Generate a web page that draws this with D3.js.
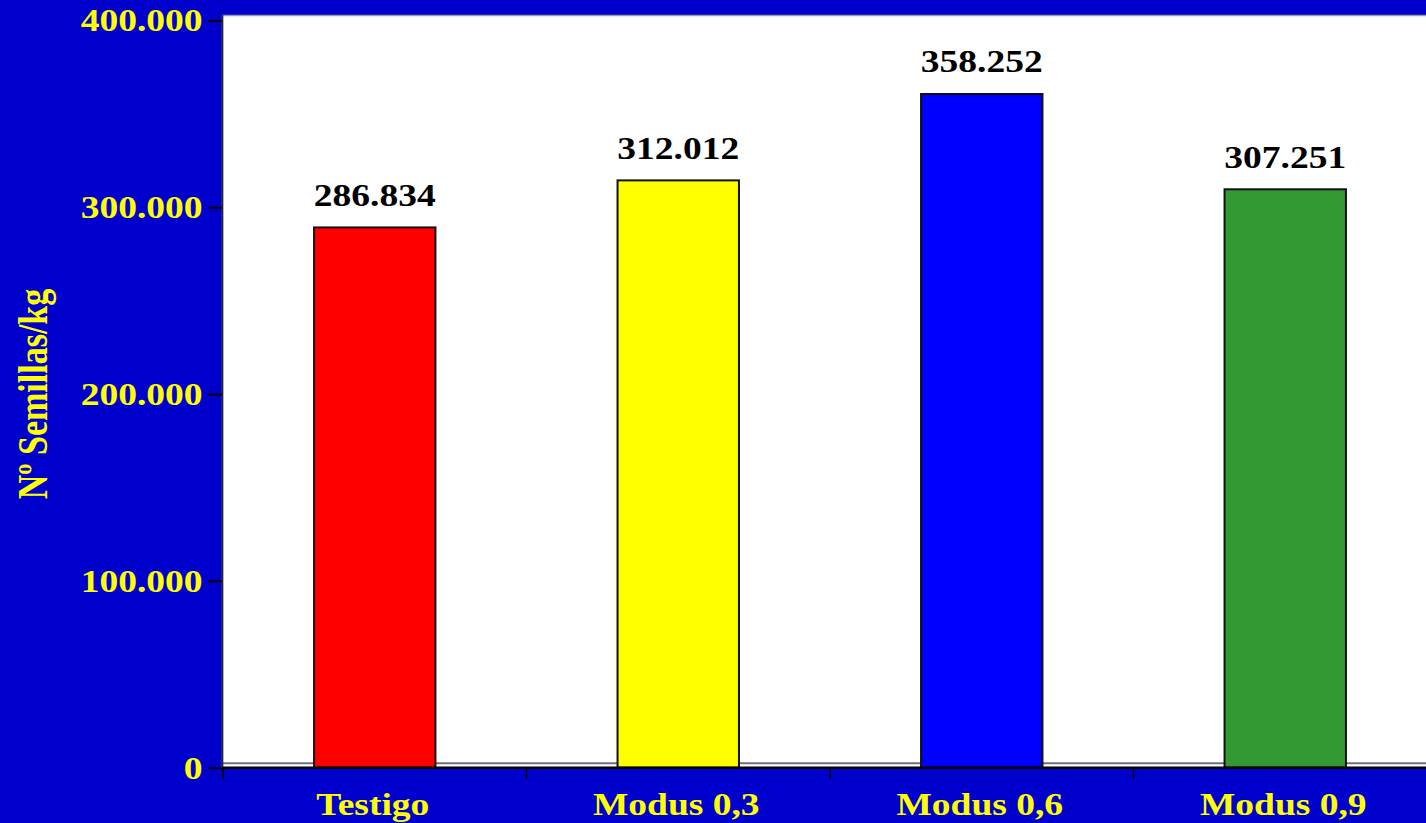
<!DOCTYPE html>
<html><head><meta charset="utf-8">
<script src="https://cdn.jsdelivr.net/npm/d3@7"></script>
<style>html,body{margin:0;padding:0;background:#0000CC;overflow:hidden}</style>
</head><body>
<svg id="c" width="1426" height="823"></svg>
<script>
const categories = ["Testigo", "Modus 0,3", "Modus 0,6", "Modus 0,9"];
const values = [286834, 312012, 358252, 307251];
const barColors = ["#FF0000", "#FFFF00", "#0000FF", "#339933"];
const yTicks = [0, 100000, 200000, 300000, 400000];
const yTitle = "Nº Semillas/kg";

const W = 1426, H = 823;
const svg = d3.select("#c");
const FONT = "'Liberation Serif', 'Times New Roman', serif";
const SX = 1.23;
const loc = d3.formatLocale({decimal: ",", thousands: ".", grouping: [3], currency: ["", ""]});
const fmt = loc.format(",");

const left = 222.5, plotTop = 16, plotBottom = 763.3, axisShift = 4.4;
const axisY = plotBottom + axisShift;
const x = d3.scaleBand().domain(categories).range([223, 223 + 4 * 303.5]).padding(0);
const y = d3.scaleLinear().domain([0, 400000]).range([plotBottom, plotTop]);

svg.append("rect").attr("width", W).attr("height", H).attr("fill", "#0000CC");
// plot area
svg.append("rect").attr("x", left).attr("y", plotTop - 0.5).attr("width", W - left + 5).attr("height", axisY - plotTop + 0.5)
  .attr("fill", "#fff").attr("stroke", "#9a9aa8").attr("stroke-width", 1.5);
svg.append("line").attr("x1", left).attr("x2", W).attr("y1", plotBottom).attr("y2", plotBottom)
  .attr("stroke", "#6e6e80").attr("stroke-width", 2);

// bars
const bw = x.bandwidth() * 0.4;
svg.selectAll("rect.bar").data(values).join("rect").attr("class", "bar")
  .attr("x", (d, i) => x(categories[i]) + (x.bandwidth() - bw) / 2)
  .attr("y", d => y(d))
  .attr("width", bw)
  .attr("height", d => axisY - y(d))
  .attr("fill", (d, i) => barColors[i])
  .attr("stroke", "#111").attr("stroke-width", 2);

// value labels
svg.selectAll("text.val").data(values).join("text").attr("class", "val")
  .attr("transform", (d, i) => `translate(${x(categories[i]) + x.bandwidth() / 2},${y(d) - 21.5}) scale(${SX},1)`)
  .attr("text-anchor", "middle").attr("font-family", FONT).attr("font-weight", "bold").attr("font-size", 30.5)
  .attr("fill", "#000").text(d => fmt(d));

// y axis
const ya = svg.append("g").attr("transform", `translate(${left},${axisShift})`)
  .call(d3.axisLeft(y).tickValues(yTicks).tickSize(14).tickPadding(0).tickFormat(d => fmt(d)));
ya.select(".domain").remove();
ya.selectAll(".tick line").attr("stroke", "#000").attr("stroke-width", 2);
ya.selectAll(".tick text").attr("transform", `scale(${SX},1)`).attr("x", -20 / SX).attr("dy", "0.34em")
  .attr("font-family", FONT).attr("font-weight", "bold").attr("font-size", 30.5).attr("fill", "#FFFF00");
svg.append("line").attr("x1", left).attr("x2", left).attr("y1", plotTop - 1).attr("y2", axisY + 11)
  .attr("stroke", "#222").attr("stroke-width", 1.5);

// x axis
svg.append("line").attr("x1", left).attr("x2", W).attr("y1", axisY).attr("y2", axisY)
  .attr("stroke", "#000").attr("stroke-width", 2.5);
const bounds = categories.map(c => x(c));
svg.selectAll("line.xt").data(bounds).join("line").attr("class", "xt")
  .attr("x1", d => d).attr("x2", d => d).attr("y1", axisY).attr("y2", axisY + 11)
  .attr("stroke", "#000").attr("stroke-width", 1.5);
svg.selectAll("text.xl").data(categories).join("text").attr("class", "xl")
  .attr("transform", d => `translate(${x(d) + x.bandwidth() / 2 - 2},815) scale(${SX},1)`)
  .attr("text-anchor", "middle").attr("font-family", FONT).attr("font-weight", "bold").attr("font-size", 30.5)
  .attr("fill", "#FFFF00").text(d => d);

// y title
svg.append("text").attr("transform", `translate(47,394) scale(${SX},1) rotate(-90)`)
  .attr("text-anchor", "middle").attr("font-family", FONT).attr("font-weight", "bold").attr("font-size", 34)
  .attr("fill", "#FFFF00").text(yTitle);
</script>
</body></html>
